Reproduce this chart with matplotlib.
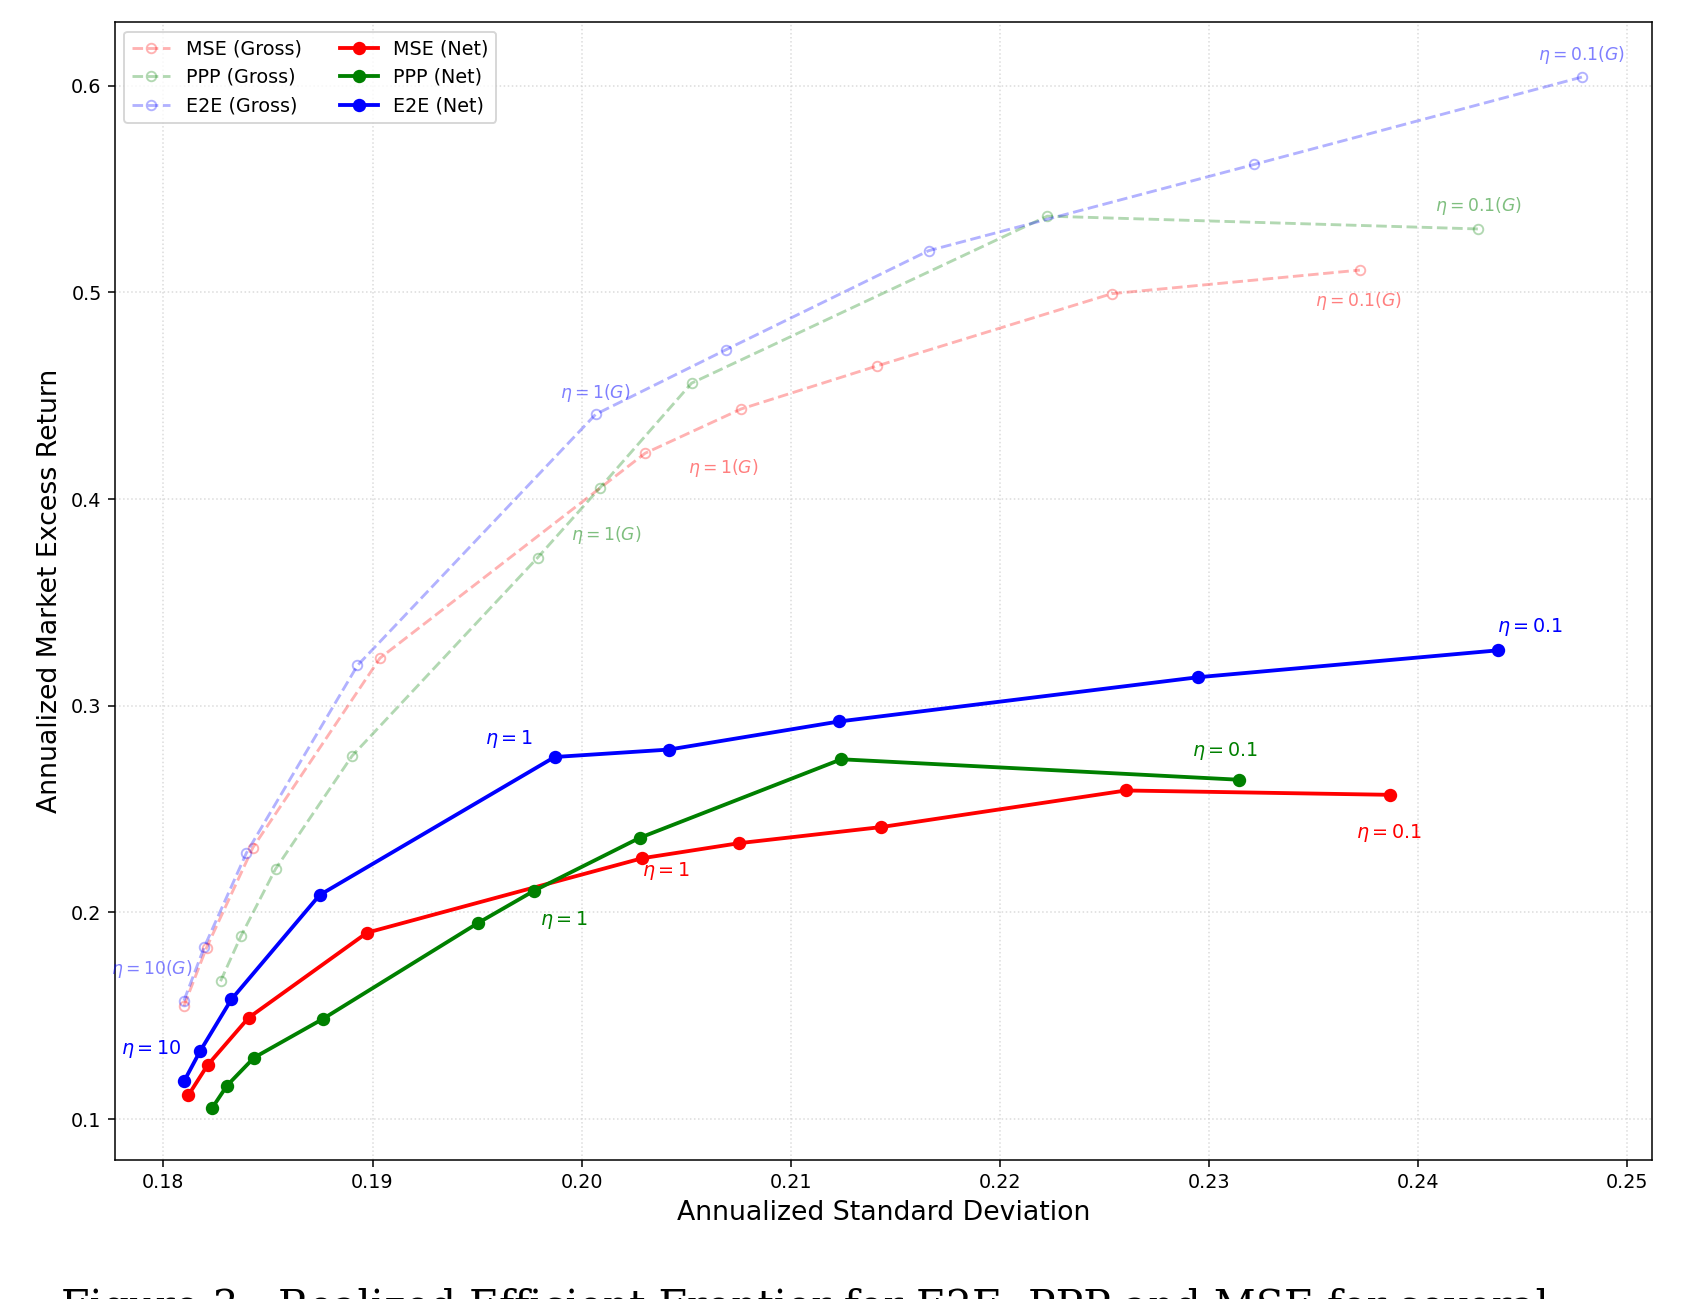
import matplotlib
matplotlib.use("Agg")
import matplotlib.pyplot as plt

# realized std / excess return, one point per eta value (high eta -> low eta)
mse_net_sd = [0.18119, 0.18211, 0.18407, 0.18974, 0.20289, 0.20753, 0.21433, 0.22603, 0.23866]
mse_net_ret = [0.1115, 0.1261, 0.1490, 0.1902, 0.2262, 0.2335, 0.2413, 0.2590, 0.2569]
ppp_net_sd = [0.18232, 0.18304, 0.18433, 0.18763, 0.19505, 0.19773, 0.20278, 0.21242, 0.23144]
ppp_net_ret = [0.1052, 0.1162, 0.1297, 0.1485, 0.1949, 0.2105, 0.2361, 0.2741, 0.2642]
e2e_net_sd = [0.18098, 0.18175, 0.18325, 0.18747, 0.19871, 0.20418, 0.21232, 0.22948, 0.24381]
e2e_net_ret = [0.1182, 0.1328, 0.1579, 0.2084, 0.2752, 0.2788, 0.2924, 0.3138, 0.3268]

mse_gross_sd = [0.18098, 0.18206, 0.18428, 0.19036, 0.20304, 0.20763, 0.21412, 0.22536, 0.23722]
mse_gross_ret = [0.1547, 0.1829, 0.2314, 0.3231, 0.4222, 0.4436, 0.4644, 0.4994, 0.5108]
ppp_gross_sd = [0.18273, 0.18371, 0.18536, 0.18902, 0.19789, 0.20088, 0.20526, 0.22227, 0.24289]
ppp_gross_ret = [0.1667, 0.1886, 0.2210, 0.2757, 0.3716, 0.4055, 0.4561, 0.5369, 0.5307]
e2e_gross_sd = [0.18098, 0.18196, 0.18397, 0.18928, 0.20067, 0.20691, 0.21660, 0.23216, 0.24784]
e2e_gross_ret = [0.1573, 0.1834, 0.2288, 0.3195, 0.4410, 0.4723, 0.5202, 0.5619, 0.6042]

fig = plt.figure(figsize=(1690 / 137.5, 1299 / 137.5), dpi=137.5)
ax = fig.add_axes([0.068, 0.107, 0.9095, 0.876])

gross_kw = dict(linestyle='--', marker='o', markerfacecolor='none', alpha=0.3, linewidth=1.5, markersize=5)
ax.plot(mse_gross_sd, mse_gross_ret, color='red', label='MSE (Gross)', **gross_kw)
ax.plot(ppp_gross_sd, ppp_gross_ret, color='green', label='PPP (Gross)', **gross_kw)
ax.plot(e2e_gross_sd, e2e_gross_ret, color='blue', label='E2E (Gross)', **gross_kw)

net_kw = dict(linestyle='-', marker='o', linewidth=2, markersize=6)
ax.plot(mse_net_sd, mse_net_ret, color='red', label='MSE (Net)', **net_kw)
ax.plot(ppp_net_sd, ppp_net_ret, color='green', label='PPP (Net)', **net_kw)
ax.plot(e2e_net_sd, e2e_net_ret, color='blue', label='E2E (Net)', **net_kw)

# eta labels
net_notes = [
    (0.17943, 0.1339, r'$\eta = 10$', 'blue'),
    (0.19655, 0.2840, r'$\eta = 1$', 'blue'),
    (0.24536, 0.3383, r'$\eta = 0.1$', 'blue'),
    (0.20402, 0.2199, r'$\eta = 1$', 'red'),
    (0.23861, 0.2382, r'$\eta = 0.1$', 'red'),
    (0.19918, 0.1965, r'$\eta = 1$', 'green'),
    (0.23077, 0.2783, r'$\eta = 0.1$', 'green'),
]
for x, y, s, c in net_notes:
    ax.text(x, y, s, color=c, fontsize=10, ha='center', va='center')

gross_notes = [
    (0.17943, 0.1725, r'$\eta = 10 (G)$', 'blue'),
    (0.20067, 0.4514, r'$\eta = 1 (G)$', 'blue'),
    (0.24784, 0.6151, r'$\eta = 0.1 (G)$', 'blue'),
    (0.20119, 0.3826, r'$\eta = 1 (G)$', 'green'),
    (0.24289, 0.5416, r'$\eta = 0.1 (G)$', 'green'),
    (0.20675, 0.4149, r'$\eta = 1 (G)$', 'red'),
    (0.23716, 0.4957, r'$\eta = 0.1 (G)$', 'red'),
]
for x, y, s, c in gross_notes:
    ax.text(x, y, s, color=c, alpha=0.5, fontsize=9, ha='center', va='center')

ax.set_xlim(0.17768, 0.25119)
ax.set_ylim(0.0802, 0.6308)
ax.set_xticks([0.18, 0.19, 0.20, 0.21, 0.22, 0.23, 0.24, 0.25])
ax.set_xticklabels(['0.18', '0.19', '0.20', '0.21', '0.22', '0.23', '0.24', '0.25'])
ax.set_yticks([0.1, 0.2, 0.3, 0.4, 0.5, 0.6])
ax.grid(True, linestyle=':', color='lightgray', alpha=0.8)
ax.set_xlabel('Annualized Standard Deviation', fontsize=14)
ax.set_ylabel('Annualized Market Excess Return', fontsize=14)
ax.legend(loc='upper left', ncol=2)

# caption of the page, cut off at the bottom
fig.text(0.036, 1 - 1288 / 1299, 'Figure 3:  Realized Efficient Frontier for E2E, PPP and MSE for several',
         fontsize=21.5, family='DejaVu Serif', va='top', ha='left')

fig.savefig('out.png', dpi=137.5)
